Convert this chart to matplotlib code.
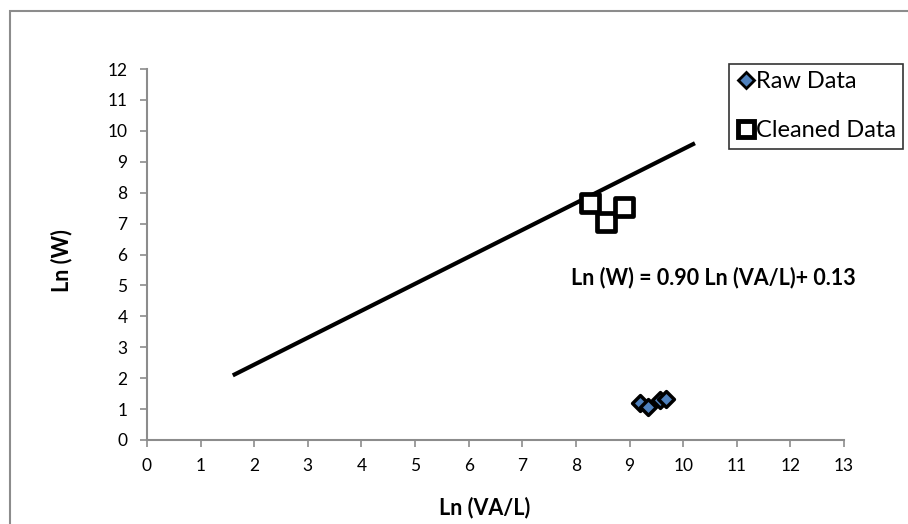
import matplotlib
matplotlib.use('Agg')
import matplotlib.pyplot as plt
from matplotlib.patches import Rectangle
from matplotlib.lines import Line2D

plt.rcParams['font.family'] = ['Lato', 'DejaVu Sans']

# Raw data points (diamonds)
raw_x = [9.19, 9.34, 9.57, 9.68]
raw_y = [1.20, 1.07, 1.29, 1.33]

# Cleaned data points (squares)
clean_x = [8.26, 8.56, 8.90]
clean_y = [7.67, 7.06, 7.54]

# Fit line end points as drawn
fit_x = [1.60, 10.22]
fit_y = [2.09, 9.60]

equation = 'Ln (W) = 0.90 Ln (VA/L)+ 0.13'

fig = plt.figure(figsize=(9.08, 5.24), dpi=100)
ax = fig.add_axes([147 / 908, 84 / 524, 697 / 908, 371 / 524])

# outer chart border
fig.patches.append(Rectangle((10 / 908, -0.05), 1.1, (513 / 524) + 0.05,
                             transform=fig.transFigure, fill=False,
                             edgecolor='#8c8c8c', linewidth=1.5))

ax.plot(fit_x, fit_y, color='black', linewidth=3, solid_capstyle='butt', zorder=2)
ax.scatter(clean_x, clean_y, marker='s', s=175, facecolors='white',
           edgecolors='black', linewidths=3.4, zorder=3)
ax.scatter(raw_x, raw_y, marker='D', s=65, facecolors='#4f81bd',
           edgecolors='black', linewidths=2.5, zorder=4)

ax.text(10.56, 5.27, equation, ha='center', va='center', fontsize=15.5,
        fontweight='bold')

ax.set_xlim(0, 13)
ax.set_ylim(0, 12)
ax.set_xticks(range(0, 14))
ax.set_yticks(range(0, 13))
ax.tick_params(direction='out', length=5, width=1.2, color='#8c8c8c',
               labelsize=12.5)
ax.tick_params(axis='y', pad=9)
ax.tick_params(axis='x', pad=8)
for side in ['top', 'right']:
    ax.spines[side].set_visible(False)
for side in ['left', 'bottom']:
    ax.spines[side].set_color('#8c8c8c')
    ax.spines[side].set_linewidth(1.5)

ax.set_xlabel('Ln (VA/L)', fontsize=15.5, fontweight='bold', va='center')
ax.xaxis.set_label_coords(0.484, -0.183)
ax.set_ylabel('Ln (W)', fontsize=15.5, fontweight='bold', va='center')
ax.yaxis.set_label_coords(-0.122, 0.485)

handles = [
    Line2D([], [], linestyle='none', marker='D', markersize=8.5,
           markerfacecolor='#4f81bd', markeredgecolor='black', markeredgewidth=2),
    Line2D([], [], linestyle='none', marker='s', markersize=11.5,
           markerfacecolor='white', markeredgecolor='black', markeredgewidth=3.5),
]
leg = fig.legend(handles, ['Raw Data', 'Cleaned Data'], loc='upper left',
                 bbox_to_anchor=(729 / 908, 1 - 64 / 524), fontsize=17,
                 frameon=True, fancybox=False, handletextpad=0.05,
                 handlelength=0.8, borderpad=0.3, labelspacing=1.2,
                 borderaxespad=0)
leg.get_frame().set_edgecolor('black')
leg.get_frame().set_linewidth(1.2)

fig.savefig('out.png', dpi=100)
